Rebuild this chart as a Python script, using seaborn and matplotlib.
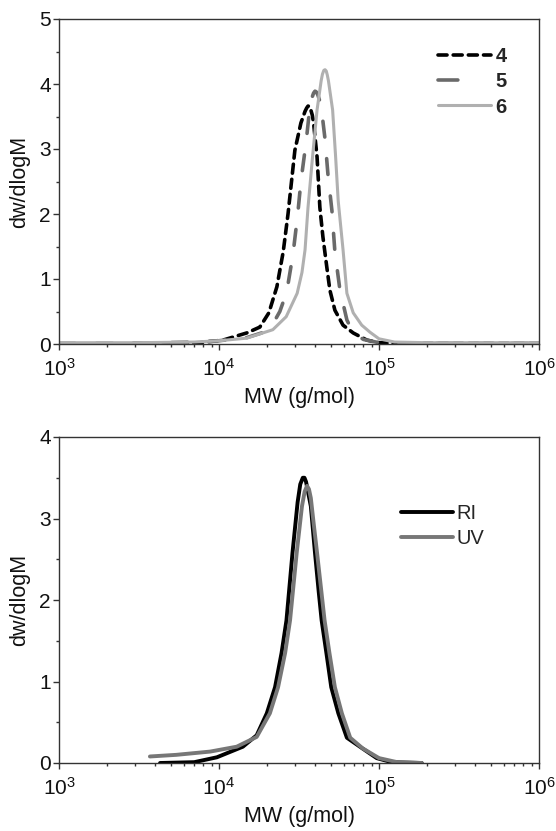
import numpy as np
import pandas as pd
import matplotlib
matplotlib.use("Agg")
import matplotlib.pyplot as plt
import matplotlib.ticker as mticker
import seaborn as sns

# --- data (MW in g/mol, dw/dlogM) ---
mw_4 = [2900, 5000, 7600, 10600, 14900, 18000, 20500, 23000, 25200, 27000, 29800, 32500,
        34500, 35300, 36000, 36800, 37500, 38300, 39000, 41000, 42700, 44600, 47200, 49300,
        53000, 59600, 69000, 84000, 100000, 130000, 1000000]
val_4 = [0.01, 0.01, 0.02, 0.06, 0.17, 0.26, 0.48, 0.88, 1.42, 2.0, 2.98, 3.4,
         3.58, 3.63, 3.66, 3.66, 3.6, 3.52, 3.4, 2.88, 2.1, 1.65, 1.18, 0.83,
         0.52, 0.29, 0.17, 0.06, 0.02, 0.01, 0.01]

mw_5 = [1000, 3000, 7000, 10000, 15000, 19000, 21500, 24000, 26500, 29000, 31000, 32500,
        35000, 37000, 38000, 39000, 39800, 40500, 41500, 42500, 44500, 46000, 48000, 50800,
        53000, 57000, 63000, 69000, 80000, 100000, 200000, 1000000]
val_5 = [0.01, 0.01, 0.03, 0.05, 0.1, 0.18, 0.29, 0.5, 0.8, 1.38, 1.98, 2.5,
         3.1, 3.65, 3.78, 3.86, 3.89, 3.88, 3.83, 3.75, 3.45, 3.15, 2.6, 2.05,
         1.42, 0.83, 0.37, 0.17, 0.07, 0.02, 0.01, 0.01]

mw_6 = [1000, 3000, 7000, 10000, 14900, 21700, 26300, 30800, 33000, 34500, 36000, 38500,
        41000, 43500, 44300, 45200, 46000, 46800, 47500, 48300, 51300, 53500, 55600, 59600,
        63000, 69000, 78000, 88000, 100000, 125000, 200000, 1000000]
val_6 = [0.02, 0.02, 0.03, 0.05, 0.09, 0.22, 0.42, 0.78, 1.1, 1.45, 2.1, 2.9,
         3.6, 4.05, 4.15, 4.21, 4.22, 4.2, 4.14, 4.05, 3.6, 2.9, 2.2, 1.45,
         0.78, 0.48, 0.29, 0.18, 0.08, 0.03, 0.02, 0.02]

mw_ri = [4280, 7000, 9700, 14100, 17200, 19900, 22400, 24600, 26400, 28800, 31000, 32200,
         33400, 34200, 35000, 37500, 39800, 42000, 43800, 46900, 50300, 55700, 63000,
         76000, 96700, 120000, 185000]
val_ri = [0.0, 0.01, 0.07, 0.2, 0.34, 0.61, 0.93, 1.35, 1.75, 2.58, 3.2, 3.42,
          3.5, 3.5, 3.45, 3.15, 2.58, 2.1, 1.75, 1.35, 0.93, 0.61, 0.31,
          0.2, 0.06, 0.01, 0.0]

mw_uv = [3700, 5400, 8800, 12900, 17200, 20800, 23400, 25900, 27800, 30600, 33000, 34300,
         35500, 36500, 37500, 39000, 41000, 45700, 49000, 53000, 58600, 66100, 79000,
         100000, 130000, 185000]
val_uv = [0.08, 0.1, 0.14, 0.2, 0.32, 0.61, 0.93, 1.35, 1.75, 2.58, 3.15, 3.33,
          3.4, 3.36, 3.25, 2.95, 2.58, 1.75, 1.35, 0.93, 0.61, 0.31, 0.18,
          0.06, 0.01, 0.0]

sns.set_theme(style="ticks")
plt.rcParams["font.family"] = ["Liberation Sans", "DejaVu Sans"]
plt.rcParams["mathtext.default"] = "regular"

fig = plt.figure(figsize=(5.56, 8.31), dpi=100)
ax1 = fig.add_axes([59 / 556, 1 - 344 / 831, 480 / 556, 325 / 831])
ax2 = fig.add_axes([59 / 556, 1 - 763 / 831, 480 / 556, 326 / 831])

top = [
    (mw_4, val_4, "4", "#000000", (2.5, 1.7), 2.6),
    (mw_5, val_5, "5", "#6a6a6a", (4.4, 6.0), 2.6),
    (mw_6, val_6, "6", "#b0b0b0", None, 2.2),
]
for mw, val, lab, col, dash, lw in top:
    df = pd.DataFrame({"MW": mw, "dw": val})
    sns.lineplot(data=df, x="MW", y="dw", ax=ax1, color=col, lw=lw, label=lab,
                 estimator=None, sort=False)
    if dash is not None:
        ax1.lines[-1].set_dashes(dash)
        ax1.lines[-1].set_dash_capstyle("round")
    else:
        ax1.lines[-1].set_solid_joinstyle("round")

bottom = [
    (mw_ri, val_ri, "RI", "#000000"),
    (mw_uv, val_uv, "UV", "#777777"),
]
for mw, val, lab, col in bottom:
    df = pd.DataFrame({"MW": mw, "dw": val})
    sns.lineplot(data=df, x="MW", y="dw", ax=ax2, color=col, lw=2.8, label=lab,
                 estimator=None, sort=False, solid_capstyle="round",
                 solid_joinstyle="round")

for ax, ymax in [(ax1, 5), (ax2, 4)]:
    ax.set_xscale("log")
    ax.set_xlim(1e3, 1e6)
    ax.set_ylim(0, ymax)
    ax.xaxis.set_major_locator(mticker.LogLocator(base=10, numticks=10))
    ax.xaxis.set_minor_locator(mticker.LogLocator(base=10, subs=np.arange(2, 10), numticks=10))
    ax.xaxis.set_minor_formatter(mticker.NullFormatter())
    ax.yaxis.set_major_locator(mticker.MultipleLocator(1))
    ax.yaxis.set_minor_locator(mticker.MultipleLocator(0.5))
    ax.tick_params(which="major", direction="out", length=4, width=1, colors="#333333",
                   labelsize=15, labelcolor="#111111", pad=2)
    ax.tick_params(axis="x", which="major", pad=6)
    ax.tick_params(which="minor", direction="out", length=2.5, width=1, colors="#333333")
    ax.tick_params(top=False, right=False, which="both")
    for sp in ax.spines.values():
        sp.set_visible(True)
        sp.set_color("#333333")
        sp.set_linewidth(1.0)
    ax.set_xlabel("MW (g/mol)", fontsize=15.5, labelpad=5, color="#111111")
    ax.set_ylabel("dw/dlogM", fontsize=15.5, labelpad=6, color="#111111")

leg1 = ax1.legend(loc="upper left", bbox_to_anchor=(0.79, 0.915), frameon=False,
                  fontsize=14.5, handlelength=2.6, handletextpad=0.25, labelspacing=0.32,
                  borderpad=0, borderaxespad=0)
for t in leg1.get_texts():
    t.set_fontweight("bold")
leg1.get_lines()[1].set_dashes((5.5, 12))

ax2.legend(loc="upper left", bbox_to_anchor=(0.712, 0.795), frameon=False,
           fontsize=14.5, handlelength=2.6, handletextpad=0.15, labelspacing=0.32,
           borderpad=0, borderaxespad=0)

fig.savefig("out.png", dpi=100)
